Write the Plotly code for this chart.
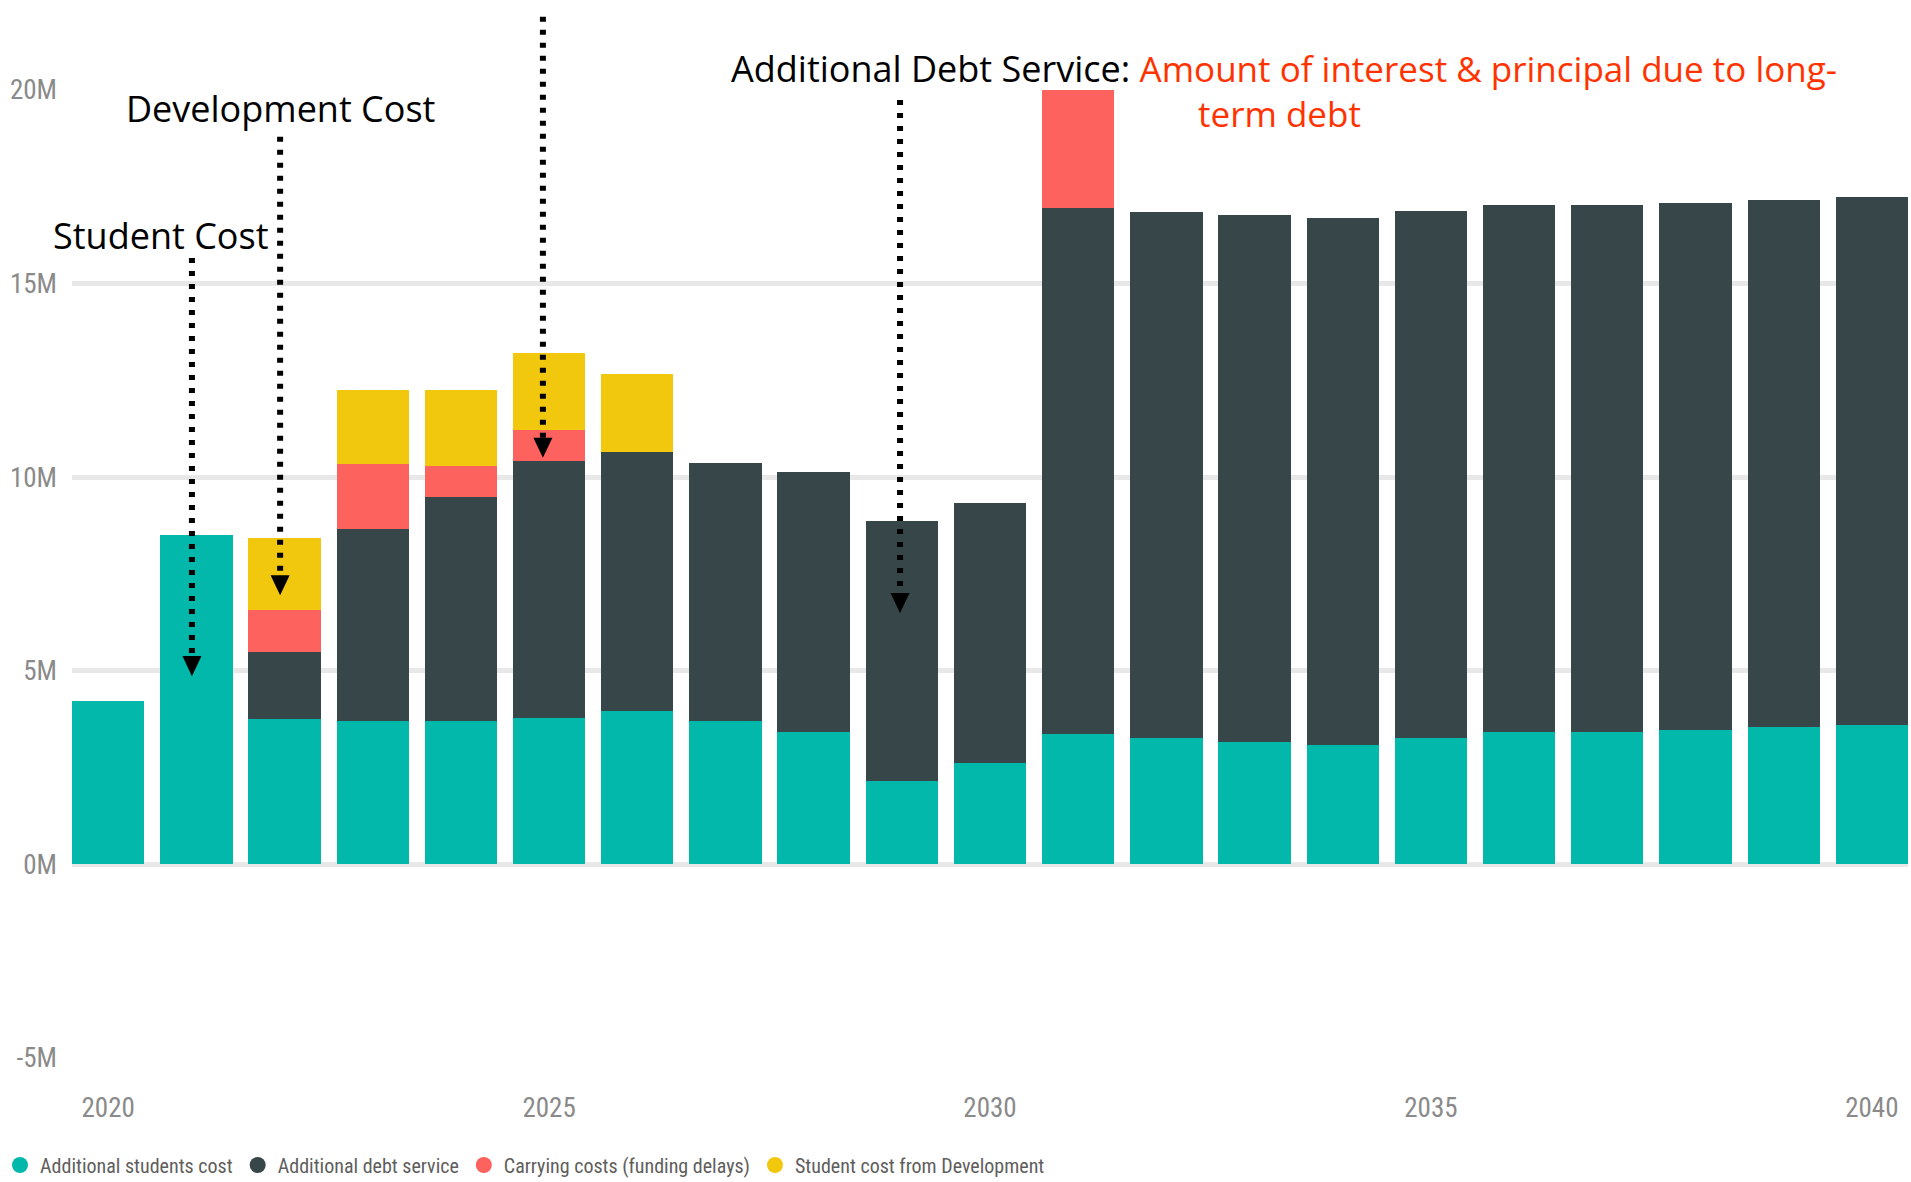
import plotly.graph_objects as go

# Annual costs, in millions of dollars
years = list(range(2020, 2041))
students_cost = [4.22, 8.50, 3.76, 3.71, 3.71, 3.79, 3.97, 3.70, 3.41, 2.15, 2.61,
                 3.38, 3.27, 3.15, 3.08, 3.27, 3.42, 3.42, 3.47, 3.54, 3.61]
debt_service = [None, None, 1.72, 4.94, 5.78, 6.62, 6.68, 6.66, 6.72, 6.71, 6.72,
                13.58, 13.58, 13.61, 13.61, 13.61, 13.62, 13.62, 13.61, 13.61, 13.62]
carrying_costs = [None, None, 1.10, 1.69, 0.81, 0.81, None, None, None, None, None,
                  3.04, None, None, None, None, None, None, None, None, None]
dev_student_cost = [None, None, 1.85, 1.91, 1.95, 1.98, 2.02, None, None, None, None,
                    None, None, None, None, None, None, None, None, None, None]

series = [
    ("Additional students cost", students_cost, "#01B8AA"),
    ("Additional debt service", debt_service, "#374649"),
    ("Carrying costs (funding delays)", carrying_costs, "#FD625E"),
    ("Student cost from Development", dev_student_cost, "#F2C80F"),
]

x_ticks = [2020, 2025, 2030, 2035, 2040]
y_ticks = [-5, 0, 5, 10, 15, 20]
y_ticktext = ["-5M", "0M", "5M", "10M", "15M", "20M"]
Y_MIN, Y_MAX = -5, 20

# Callout arrows: (year position, top of dotted line, arrow tip) in $M
arrows = [
    (2020.95, 15.66, 4.86),
    (2021.95, 18.79, 6.95),
    (2024.93, 21.89, 10.50),
    (2028.98, 19.74, 6.49),
]

narrow = "Roboto Condensed, Liberation Sans Narrow, Roboto, sans-serif"
note_font = "Open Sans, Noto Sans, sans-serif"
RED_NOTE = "#FF3300"
red_span = f"<span style='color:{RED_NOTE};font-size:35px'>"

fig = go.Figure()

for name, vals, color in series:
    fig.add_trace(go.Bar(
        x=years, y=vals, name=name, marker=dict(color=color, line=dict(width=0)),
        showlegend=False, hoverinfo="skip",
    ))

# Round legend markers
for name, vals, color in series:
    fig.add_trace(go.Scatter(
        x=[None], y=[None], mode="markers", name=name,
        marker=dict(symbol="circle", size=16, color=color), hoverinfo="skip",
    ))


def to_paper(v):
    return (v - Y_MIN) / (Y_MAX - Y_MIN)


HALF_W = 0.108   # half width of arrowhead, in years
HEAD_H = 0.52    # arrowhead height, in $M
shapes = []
for ax, top, tip in arrows:
    shapes.append(dict(
        type="line", xref="x", yref="paper", x0=ax, x1=ax,
        y0=to_paper(top), y1=to_paper(tip + HEAD_H),
        line=dict(color="black", width=6, dash="5px,8px"),
    ))
    shapes.append(dict(
        type="path", xref="x", yref="paper",
        path=(f"M {ax - HALF_W},{to_paper(tip + HEAD_H)} "
              f"L {ax + HALF_W},{to_paper(tip + HEAD_H)} "
              f"L {ax},{to_paper(tip)} Z"),
        fillcolor="black", line=dict(width=0),
    ))

annotations = [
    dict(text="Student Cost", x=-0.0114, y=0.850),
    dict(text="Development Cost", x=0.0283, y=0.981),
    dict(text="Additional Debt Service: " + red_span +
              "Amount of interest & principal due to long-</span>", x=0.3578, y=1.0227),
    dict(text=red_span + "term debt</span>", x=0.6122, y=0.9762),
]
for a in annotations:
    a.update(xref="paper", yref="paper", xanchor="left", yanchor="middle", showarrow=False,
             font=dict(family=note_font, size=36, color="black"))

fig.update_layout(
    width=1911, height=1182,
    margin=dict(l=72, r=3, t=90, b=124),
    barmode="stack", bargap=0.18,
    plot_bgcolor="white", paper_bgcolor="white",
    shapes=shapes, annotations=annotations,
    hovermode=False,
    showlegend=True,
    legend=dict(
        orientation="h", xref="container", yref="container",
        x=0.0, y=0.0144, xanchor="left", yanchor="middle",
        traceorder="normal", itemwidth=30, tracegroupgap=0,
        font=dict(family=narrow, size=20, color="#605E5C"),
        bgcolor="rgba(0,0,0,0)",
    ),
    xaxis=dict(
        range=[2019.59, 2040.41], tickvals=x_ticks, showgrid=False, zeroline=False,
        showline=False, ticks="", ticklabelstandoff=31,
        tickfont=dict(family=narrow, size=27, color="#8a8a8a"),
    ),
    yaxis=dict(
        range=[Y_MIN, Y_MAX], tickvals=y_ticks, ticktext=y_ticktext,
        showgrid=True, gridcolor="#e8e8e8", gridwidth=5,
        zeroline=True, zerolinecolor="#e8e8e8", zerolinewidth=5,
        showline=False, ticks="", ticklabelstandoff=14,
        tickfont=dict(family=narrow, size=27, color="#8a8a8a"),
    ),
)

fig.write_html("out.html")
